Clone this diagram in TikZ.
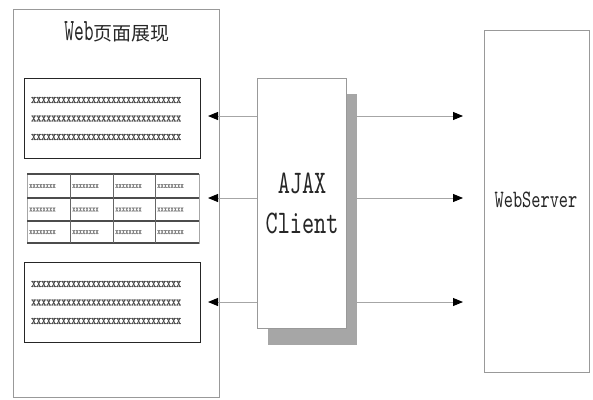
\documentclass[tikz,border=0pt]{standalone}
\usepackage{fontspec}
\usetikzlibrary{arrows.meta}
\newfontfamily\cjk{Noto Sans CJK SC}
\newfontfamily\cmono{lmmono10-regular.otf}[FakeStretch=0.7]
\newfontfamily\cmononarrow{lmmono10-regular.otf}[FakeStretch=0.6]
\newfontfamily\cmonobold{lmmono10-regular.otf}[FakeStretch=0.7,FakeBold=1.2]
\tikzset{
  frame/.style={draw=black!40, line width=0.9pt, inner sep=0pt, anchor=north west},
  textbox/.style={draw=black!85, line width=1.2pt, inner sep=0pt, anchor=north west},
  link/.style={draw=black!35, line width=0.9pt, -{Triangle[length=10pt,width=8pt,color=black]}},
  xtext/.style={font=\cmonobold\fontsize{13.6}{18.5}\selectfont, text=black!70, align=left, anchor=west, inner sep=0pt},
  celltext/.style={font=\cmonobold\fontsize{9}{9}\selectfont, text=black!50, anchor=west, inner sep=0pt},
}
\begin{document}
\begin{tikzpicture}[x=1pt,y=-1pt]
\useasboundingbox (0,0) rectangle (593,399);
% page frame
\node[frame, minimum width=206pt, minimum height=388pt] (page) at (13,9) {};
\node[inner sep=0pt, text=black!85] (title) at (117,32) {{\cmononarrow\fontsize{31}{31}\selectfont Web}{\cjk\fontsize{19}{19}\selectfont 页面展现}};
% text box 1
\node[textbox, minimum width=176pt, minimum height=80pt] (box1) at (24,78) {};
\node[xtext] (t1) at (31,118.5) {xxxxxxxxxxxxxxxxxxxxxxxxxxxxxx\\xxxxxxxxxxxxxxxxxxxxxxxxxxxxxx\\xxxxxxxxxxxxxxxxxxxxxxxxxxxxxx};
% table
\node[draw=black!35, line width=0.9pt, inner sep=0pt, anchor=north west, minimum width=172pt, minimum height=69pt] (table) at (27,174) {};
\foreach \y in {174,198,221,243} \draw[black!70, line width=1.3pt] (27,\y) -- (199,\y);
\foreach \x in {70,113,155} \draw[black!60, line width=0.9pt] (\x,174) -- (\x,243);
\foreach \x [count=\i] in {29,72,115,157} {
  \foreach \y [count=\j] in {186,209.5,232} {
    \node[celltext] (c\i\j) at (\x,\y) {xxxxxxxx};
  }
}
% text box 2
\node[textbox, minimum width=176pt, minimum height=80pt] (box2) at (24,262) {};
\node[xtext] (t2) at (31,302.5) {xxxxxxxxxxxxxxxxxxxxxxxxxxxxxx\\xxxxxxxxxxxxxxxxxxxxxxxxxxxxxx\\xxxxxxxxxxxxxxxxxxxxxxxxxxxxxx};
% AJAX client with shadow
\node[fill=black!35, inner sep=0pt, anchor=north west, minimum width=89pt, minimum height=251pt] (shadow) at (268,94) {};
\node[frame, fill=white, minimum width=89pt, minimum height=250pt] (ajax) at (257,78) {};
\node[font=\cmono\fontsize{33}{40}\selectfont, align=center, inner sep=0pt, text=black!85] (ajaxlabel) at (302,203) {AJAX\\Client};
% server
\node[frame, minimum width=105pt, minimum height=342pt] (server) at (484,30) {};
\node[font=\cmono\fontsize{25}{25}\selectfont, inner sep=0pt, text=black!85] (serverlabel) at (536,200) {WebServer};
% arrow end points
\coordinate (l1) at (208,116);
\coordinate (l2) at (208,198);
\coordinate (l3) at (208,302);
\coordinate (r1) at (463,116);
\coordinate (r2) at (463,198);
\coordinate (r3) at (463,302);
\draw[link] (ajax.west |- l1) -- (l1);
\draw[link] (ajax.west |- l2) -- (l2);
\draw[link] (ajax.west |- l3) -- (l3);
\draw[link] (shadow.east |- r1) -- (r1);
\draw[link] (shadow.east |- r2) -- (r2);
\draw[link] (shadow.east |- r3) -- (r3);
\end{tikzpicture}
\end{document}
